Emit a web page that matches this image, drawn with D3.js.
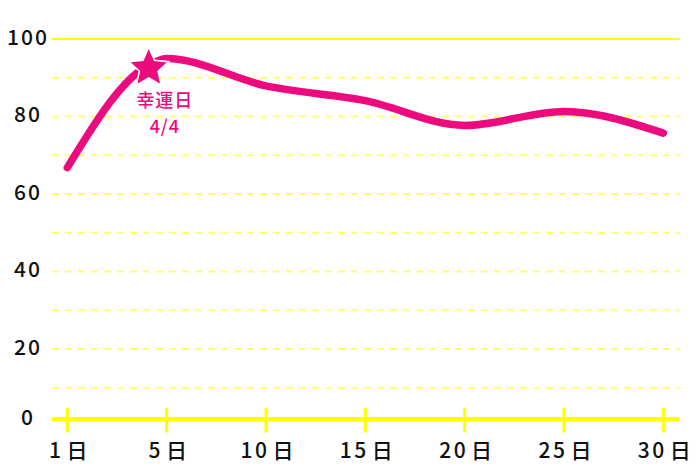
<!DOCTYPE html>
<html>
<head>
<meta charset="utf-8">
<script src="https://cdn.jsdelivr.net/npm/d3@7"></script>
<style>
  html, body { margin: 0; padding: 0; background: #fff; }
  svg { display: block; }
  text { font-family: "Noto Sans CJK JP", "Noto Sans", sans-serif; }
</style>
</head>
<body>
<svg id="chart" width="700" height="467"></svg>
<script>
// ---- data ----
const days = [0, 4, 5, 10, 15, 20, 25, 30];
const values = [66.8, 93, 95, 87.9, 84.1, 77.7, 81.3, 75.7];
const xTickValues = [0, 5, 10, 15, 20, 25, 30];
const xTickLabels = ["1", "5", "10", "15", "20", "25", "30"];
const yTickLabels = [0, 20, 40, 60, 80, 100];
const gridValues = [10, 20, 30, 40, 50, 60, 70, 80, 90, 100];
const luckyDay = 4;
const luckyValue = 93;
const luckyLabel = ["幸運日", "4/4"];

// ---- layout ----
const pink = "#ec0a7e";
const yellow = "#ffff00";
const gridYellow = "#ffff70";
const axisY = 419.3;
const gridX0 = 52, gridX1 = 680;

const svg = d3.select("#chart");
const x = d3.scaleLinear().domain([0, 30]).range([67.3, 663.3]);
const y = d3.scaleLinear().domain([0, 100]).range([426.5, 39]);

// grid
svg.append("g").selectAll("line").data(gridValues).join("line")
  .attr("x1", gridX0).attr("x2", gridX1)
  .attr("y1", d => y(d)).attr("y2", d => y(d))
  .attr("stroke", d => d === 100 ? yellow : gridYellow)
  .attr("stroke-width", 2)
  .attr("stroke-dasharray", d => d === 100 ? null : "7,6");

// x axis line
svg.append("line")
  .attr("x1", gridX0).attr("x2", gridX1 - 1)
  .attr("y1", axisY).attr("y2", axisY)
  .attr("stroke", yellow).attr("stroke-width", 4.5);

// x ticks
svg.append("g").selectAll("line").data(xTickValues).join("line")
  .attr("x1", d => x(d)).attr("x2", d => x(d))
  .attr("y1", 408).attr("y2", 432.5)
  .attr("stroke", yellow).attr("stroke-width", 3);

// x tick labels
const xl = svg.append("g").selectAll("text").data(xTickValues).join("text")
  .attr("x", d => x(d) + 1).attr("y", 458)
  .attr("text-anchor", "middle")
  .attr("font-size", 21)
  .attr("font-weight", 500)
  .attr("fill", "#111");
xl.append("tspan").attr("letter-spacing", 2.5).text((d, i) => xTickLabels[i]);
xl.append("tspan").attr("dx", 3).text("日");

// y tick labels
svg.append("g").selectAll("text").data(yTickLabels).join("text")
  .attr("x", 28).attr("y", d => (d === 0 ? axisY : y(d)) - 2)
  .attr("dy", "0.36em")
  .attr("text-anchor", "middle")
  .attr("font-size", 21)
  .attr("font-weight", 500)
  .attr("letter-spacing", 2)
  .attr("fill", "#111")
  .text(d => d);

// line
const line = d3.line()
  .x((d, i) => x(days[i]))
  .y(d => y(d))
  .curve(d3.curveMonotoneX);
svg.append("path")
  .datum(values)
  .attr("d", line)
  .attr("fill", "none")
  .attr("stroke", pink)
  .attr("stroke-width", 7.5)
  .attr("stroke-linecap", "round")
  .attr("stroke-linejoin", "round");

// lucky star (5-point star path)
const rOuter = 21, rInner = 9.8;
const starPts = d3.range(10).map(k => {
  const a = -Math.PI / 2 + k * Math.PI / 5;
  const r = k % 2 === 0 ? rOuter : rInner;
  return [r * Math.cos(a), r * Math.sin(a)];
});
svg.append("path")
  .attr("d", d3.line()(starPts) + "Z")
  .attr("transform", `translate(${x(luckyDay) + 2},${y(luckyValue) + 2})`)
  .attr("fill", pink)
  .attr("stroke", "#fff")
  .attr("stroke-width", 1.5)
  .attr("stroke-linejoin", "miter");

// lucky label (two lines)
svg.append("g").selectAll("text").data(luckyLabel).join("text")
  .attr("x", x(luckyDay) + 18)
  .attr("y", (d, i) => y(luckyValue) + 41 + i * 26)
  .attr("text-anchor", "middle")
  .attr("font-size", 18)
  .attr("font-weight", 500)
  .attr("letter-spacing", 0.8)
  .attr("fill", pink)
  .text(d => d);
</script>
</body>
</html>
